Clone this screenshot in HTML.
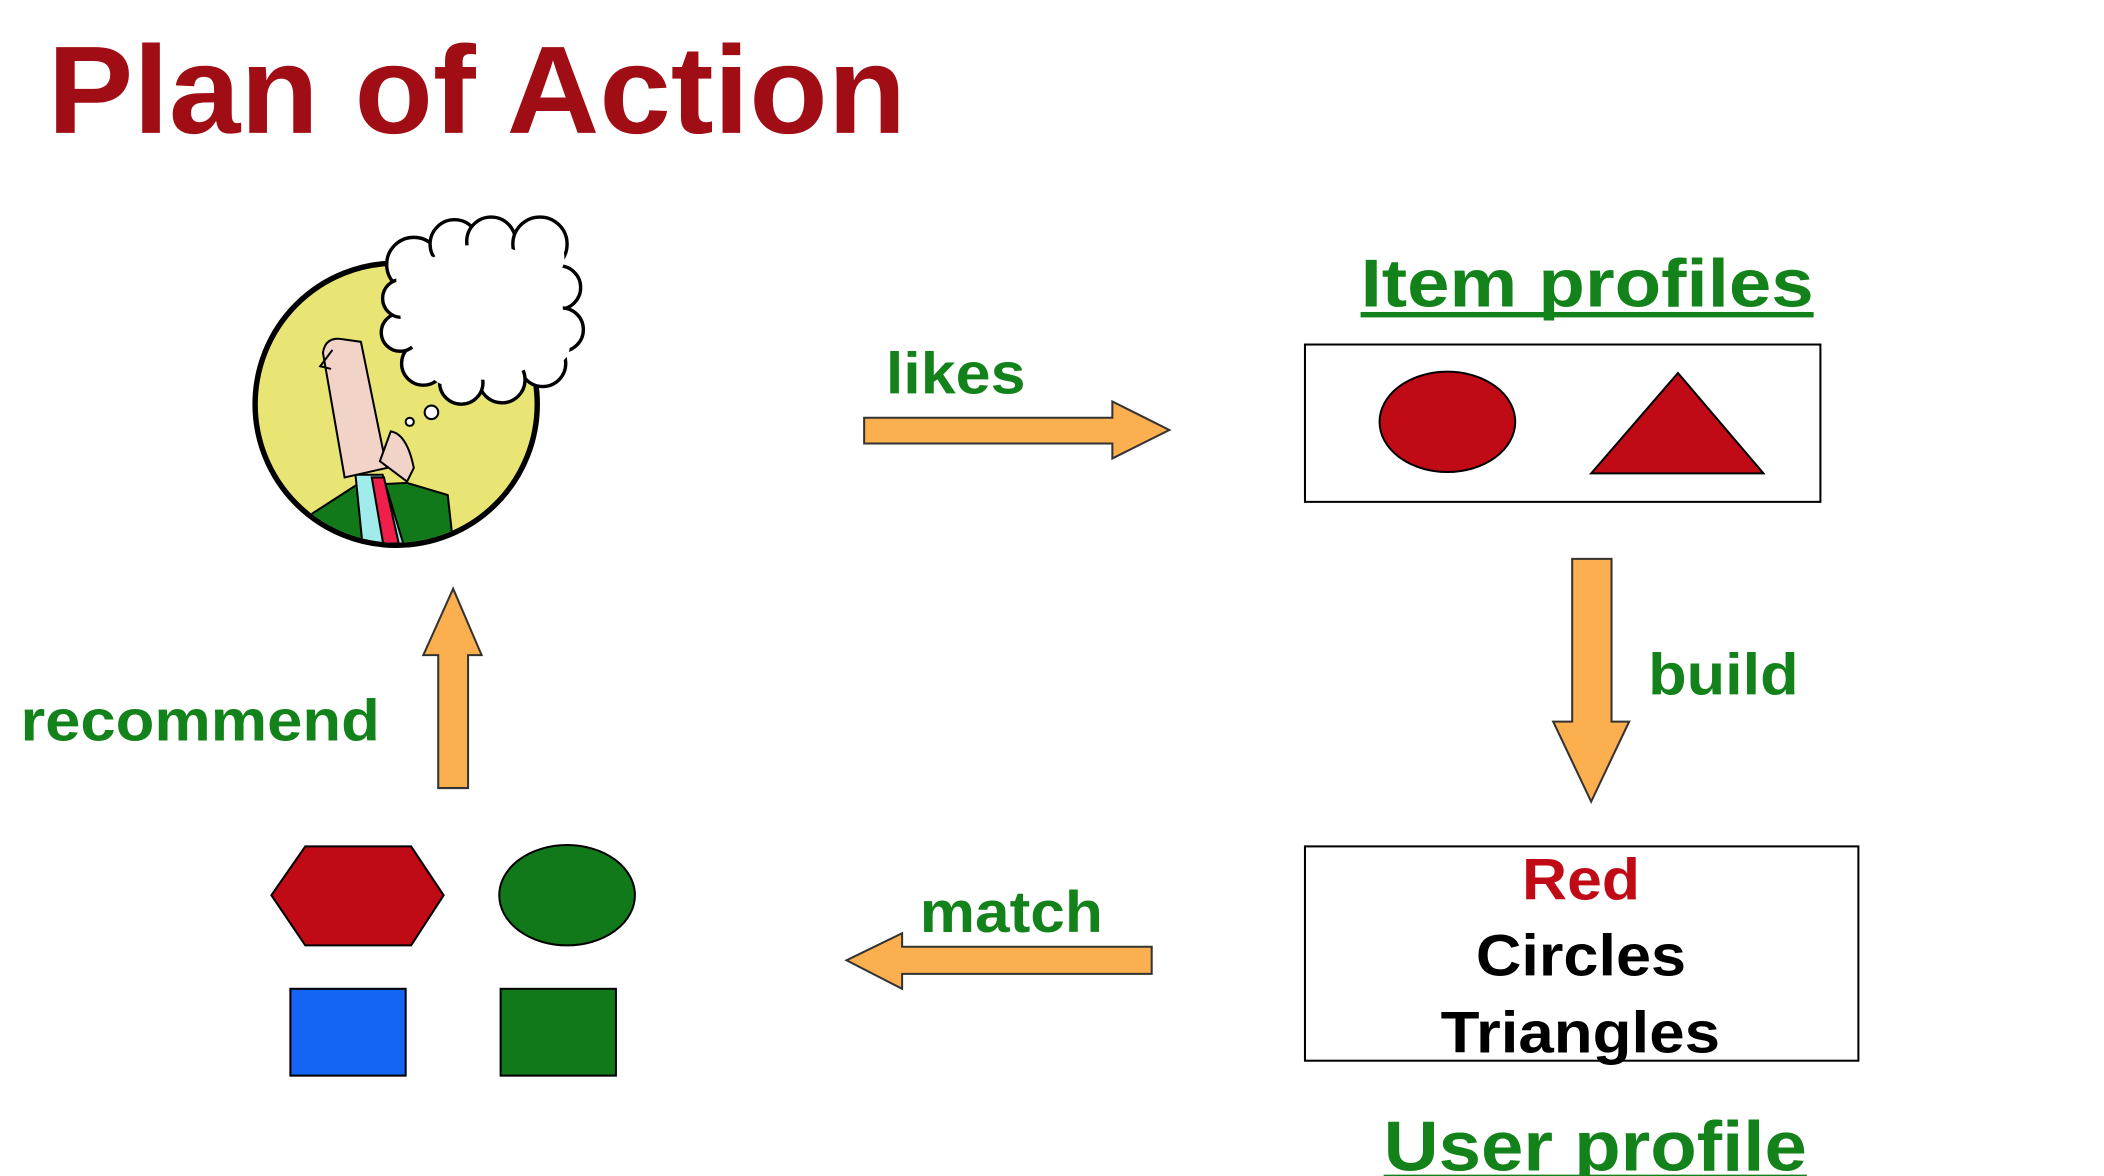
<!DOCTYPE html>
<html><head><meta charset="utf-8"><style>
html,body{margin:0;padding:0;background:#fff;}
svg{display:block;}
text{font-family:"Liberation Sans",sans-serif;font-weight:bold;}
</style></head><body>
<svg width="2104" height="1176" viewBox="0 0 1551 867" xmlns="http://www.w3.org/2000/svg">
<text x="35" y="98" font-size="92" fill="#A00D14" textLength="633" lengthAdjust="spacingAndGlyphs">Plan of Action</text>

<!-- person circle -->
<circle cx="292" cy="298" r="104" fill="#E8E575" stroke="#000" stroke-width="4"/>
<clipPath id="cc"><circle cx="292" cy="298" r="102"/></clipPath>
<g clip-path="url(#cc)" stroke="#000" stroke-width="1.5">
  <path d="M228 380 L262 358 L300 356 L330 365 L335 410 L225 410 Z" fill="#11791A"/>
  <path d="M262 350 L282 350 L300 410 L268 410 Z" fill="#A0ECEC"/>
  <path d="M274 352 L283 352 L296 410 L284 410 Z" fill="#F01E4A"/>
  <path d="M254 352 L238 260 Q240 248 252 250 L266 252 L285 345 Z" fill="#F2D3C7"/>
  <path d="M280 340 L288 318 Q300 320 305 345 L300 355 Z" fill="#F2D3C7"/>
</g>
<path d="M245 258 L236 270 L244 272" fill="none" stroke="#000" stroke-width="1.5"/>
<circle cx="302" cy="311" r="3" fill="#fff" stroke="#000" stroke-width="1.5"/>
<circle cx="318" cy="304" r="5" fill="#fff" stroke="#000" stroke-width="1.5"/>
<!-- cloud -->
<g fill="#fff" stroke="#000" stroke-width="2.5">
  <circle cx="305" cy="195" r="20"/><circle cx="335" cy="180" r="18"/><circle cx="362" cy="178" r="18"/><circle cx="398" cy="180" r="20"/>
  <circle cx="412" cy="212" r="16"/><circle cx="414" cy="243" r="16"/><circle cx="400" cy="268" r="17"/><circle cx="370" cy="280" r="17"/>
  <circle cx="340" cy="282" r="16"/><circle cx="312" cy="268" r="16"/><circle cx="295" cy="245" r="14"/><circle cx="296" cy="220" r="14"/>
</g>
<g fill="#fff"><ellipse cx="355" cy="230" rx="60" ry="50"/><circle cx="310" cy="205" r="18"/><circle cx="398" cy="190" r="18"/><circle cx="405" cy="255" r="15"/><circle cx="330" cy="270" r="14"/></g>

<!-- likes -->
<text x="653" y="290" font-size="43" fill="#13821A" textLength="103" lengthAdjust="spacingAndGlyphs">likes</text>
<path d="M637 308 L820 308 L820 296 L862 317 L820 338 L820 327 L637 327 Z" fill="#FBAF4F" stroke="#333" stroke-width="1.5"/>

<!-- item profiles -->
<text x="1003" y="226" font-size="50" fill="#13821A" textLength="334" lengthAdjust="spacingAndGlyphs">Item profiles</text>
<rect x="1003" y="230" width="334" height="4" fill="#13821A"/>
<rect x="962" y="254" width="380" height="116" fill="#fff" stroke="#000" stroke-width="1.5"/>
<ellipse cx="1067" cy="311" rx="50" ry="37" fill="#C00A15" stroke="#000" stroke-width="1.5"/>
<path d="M1173 349 L1237 275 L1300 349 Z" fill="#C00A15" stroke="#000" stroke-width="1.5"/>

<!-- build -->
<path d="M1159 412 L1188 412 L1188 532 L1201 532 L1173 591 L1145 532 L1159 532 Z" fill="#FBAF4F" stroke="#333" stroke-width="1.5"/>
<text x="1215" y="512" font-size="43" fill="#13821A" textLength="111" lengthAdjust="spacingAndGlyphs">build</text>

<!-- user profile -->
<rect x="962" y="624" width="408" height="158" fill="#fff" stroke="#000" stroke-width="1.5"/>
<text x="1122" y="663" font-size="43" fill="#C00A15" textLength="87" lengthAdjust="spacingAndGlyphs">Red</text>
<text x="1088" y="719" font-size="43" fill="#000" textLength="155" lengthAdjust="spacingAndGlyphs">Circles</text>
<text x="1062" y="776" font-size="43" fill="#000" textLength="206" lengthAdjust="spacingAndGlyphs">Triangles</text>
<text x="1020" y="863" font-size="52" fill="#13821A" textLength="312" lengthAdjust="spacingAndGlyphs">User profile</text>
<rect x="1020" y="866" width="312" height="4" fill="#13821A"/>

<!-- match -->
<text x="678" y="687" font-size="43" fill="#13821A" textLength="135" lengthAdjust="spacingAndGlyphs">match</text>
<path d="M849 698 L665 698 L665 688 L624 708 L665 729 L665 718 L849 718 Z" fill="#FBAF4F" stroke="#333" stroke-width="1.5"/>

<!-- shapes -->
<path d="M200 660 L225 624 L303 624 L327 660 L303 697 L225 697 Z" fill="#C00A15" stroke="#000" stroke-width="1.5"/>
<ellipse cx="418" cy="660" rx="50" ry="37" fill="#11791A" stroke="#000" stroke-width="1.5"/>
<rect x="214" y="729" width="85" height="64" fill="#1565F5" stroke="#000" stroke-width="1.5"/>
<rect x="369" y="729" width="85" height="64" fill="#11791A" stroke="#000" stroke-width="1.5"/>

<!-- recommend -->
<path d="M323 581 L345 581 L345 483 L355 483 L334 434 L312 483 L323 483 Z" fill="#FBAF4F" stroke="#333" stroke-width="1.5"/>
<text x="15" y="546" font-size="43" fill="#13821A" textLength="265" lengthAdjust="spacingAndGlyphs">recommend</text>
</svg>
</body></html>
